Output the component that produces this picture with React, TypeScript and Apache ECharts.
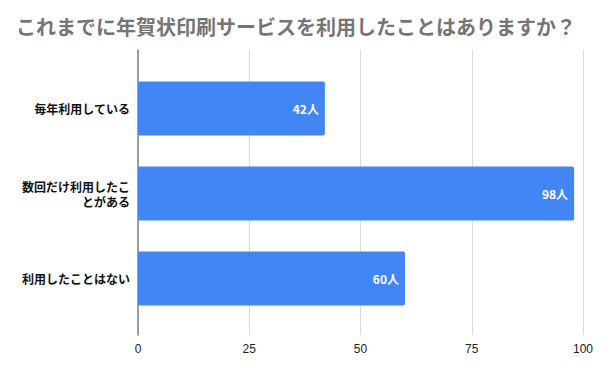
import React, { useEffect, useRef } from "react";
import * as echarts from "echarts";

const titleText = "これまでに年賀状印刷サービスを利用したことはありますか？";
const categories = ["毎年利用している", "数回だけ利用したことがある", "利用したことはない"];
const counts = [42, 98, 60];
const unit = "人";
const axisMin = 0;
const axisMax = 100;
const axisInterval = 25;

const JP = "'Noto Sans CJK JP', 'Noto Sans', sans-serif";

export default function App() {
  const ref = useRef<HTMLDivElement>(null);
  useEffect(() => {
    if (!ref.current) return;
    document.body.style.margin = "0";
    const chart = echarts.init(ref.current, null, { renderer: "svg" });
    chart.setOption({
      animation: false,
      backgroundColor: "#ffffff",
      title: {
        text: titleText,
        left: 11,
        top: 11,
        textStyle: { fontFamily: JP, fontSize: 20, fontWeight: "bold", color: "#757575" },
      },
      grid: [
        { left: 138, right: 19, top: 66, bottom: 51, containLabel: false },
        { left: 138, right: 19, top: 50, bottom: 37, containLabel: false },
      ],
      xAxis: [
        {
          gridIndex: 0,
          type: "value",
          min: axisMin,
          max: axisMax,
          interval: axisInterval,
          show: false,
        },
        {
          gridIndex: 1,
          type: "value",
          min: axisMin,
          max: axisMax,
          interval: axisInterval,
          axisLine: { show: false },
          axisTick: { show: false },
          axisLabel: {
            color: "#222222",
            fontSize: 12,
            fontFamily: "'Liberation Sans', Arial, sans-serif",
            margin: 8,
          },
          splitLine: { show: true, lineStyle: { color: "#d9d9d9", width: 1 } },
        },
      ],
      yAxis: [
        {
          gridIndex: 0,
          type: "category",
          data: categories,
          inverse: true,
          axisLine: { show: false },
          axisTick: { show: false },
          axisLabel: {
            color: "#111111",
            fontSize: 12,
            fontWeight: "bold",
            fontFamily: JP,
            margin: 8,
            width: 110,
            overflow: "break",
            lineHeight: 15,
            align: "right",
          },
        },
        {
          gridIndex: 1,
          type: "value",
          min: 0,
          max: 1,
          axisLine: { show: true, lineStyle: { color: "#808080", width: 1.5 } },
          axisTick: { show: false },
          axisLabel: { show: false },
          splitLine: { show: false },
        },
      ],
      series: [
        {
          type: "bar",
          xAxisIndex: 0,
          yAxisIndex: 0,
          data: counts,
          barWidth: 54,
          itemStyle: { color: "#4285F4", borderRadius: 2 },
          label: {
            show: true,
            position: "insideRight",
            distance: 6,
            formatter: (p: any) => `${p.value}${unit}`,
            color: "#ffffff",
            fontSize: 12,
            fontWeight: "bold",
            fontFamily: JP,
          },
        },
      ],
    });
    return () => chart.dispose();
  }, []);
  return <div ref={ref} style={{ width: 602, height: 372 }} />;
}
